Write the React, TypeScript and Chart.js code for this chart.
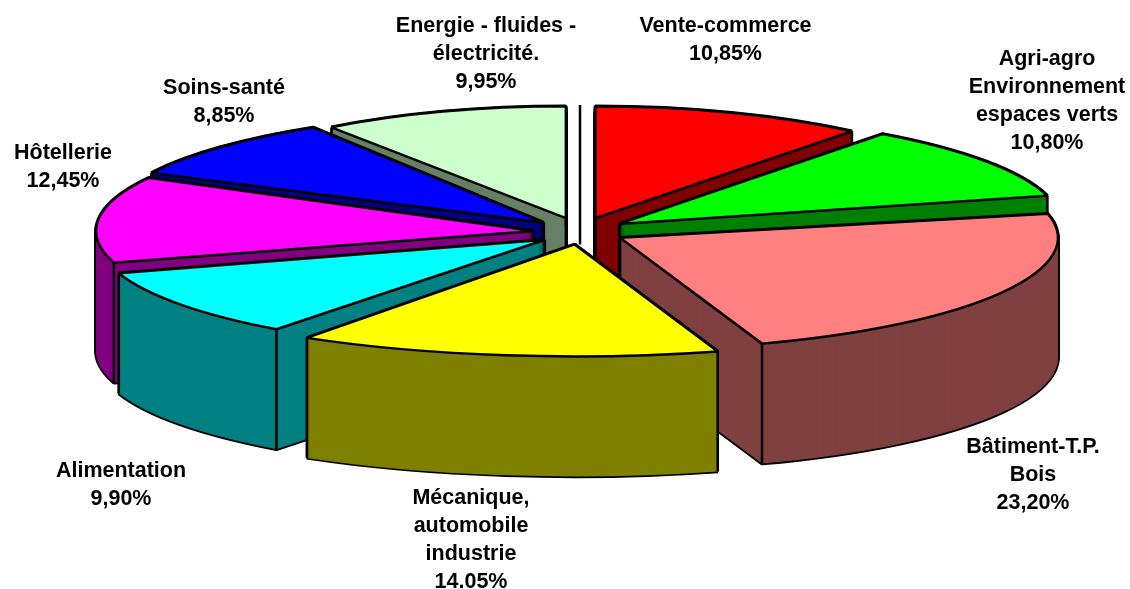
import React, { useEffect, useRef } from "react";
import { Chart, registerables } from "chart.js";

Chart.register(...registerables);

const categories = ["Vente-commerce", "Agri-agro Environnement espaces verts", "Bâtiment-T.P. Bois", "Mécanique, automobile industrie", "Alimentation", "Hôtellerie", "Soins-santé", "Energie - fluides - électricité."];
const values = [10.85, 10.8, 23.2, 14.05, 9.9, 12.45, 8.85, 9.95];
const topColors = ["#FF0000", "#00FF00", "#FF8080", "#FFFF00", "#00FFFF", "#FF00FF", "#0000FF", "#CCFFCC"];
const sideColors = ["#800000", "#008000", "#804040", "#808000", "#008080", "#800080", "#000080", "#668066"];
const labelLines = [
  ["Vente-commerce", "10,85%"],
  ["Agri-agro", "Environnement", "espaces verts", "10,80%"],
  ["Bâtiment-T.P.", "Bois", "23,20%"],
  ["Mécanique,", "automobile", "industrie", "14.05%"],
  ["Alimentation", "9,90%"],
  ["Hôtellerie", "12,45%"],
  ["Soins-santé", "8,85%"],
  ["Energie - fluides -", "électricité.", "9,95%"],
];

// Presentation of the 3D view
const labelAnchors = [[725.5, 26], [1047, 59], [1033, 447], [471, 498], [121, 471], [63, 153], [224, 88], [486, 26]];
const perspectiveTurnDeg = [0, -2.5, -0.3, 1.5, 5, 6, 4, 0];
const perspectiveWiden = [0.93, 1.01, 1, 1.11, 1.02, 1, 1, 0.915];
const paintOrder = [7, 0, 6, 1, 5, 4, 2, 3];
const view = { cx: 580, cy: 231, rx: 438, ry: 112, explodeX: 46, explodeY: 13.5, depth: 120, line: 2.5 };

const pie3d = {
  id: "pie3d",
  beforeDatasetDraw(chart: any) {
    const ctx = chart.ctx as CanvasRenderingContext2D;
    const arcs = chart.getDatasetMeta(0).data as any[];
    const nativeStroke = ctx.stroke;
    // Keep outlines an even width although the circle is squashed to an ellipse.
    (ctx as any).stroke = function () {
      const m = ctx.getTransform();
      ctx.setTransform(1, 0, 0, 1, 0, 0);
      nativeStroke.call(ctx);
      ctx.setTransform(m);
    };
    const setup = (arc: any, i: number, dy: number) => {
      const mid = (arc.startAngle + arc.endAngle) / 2;
      const ax = view.cx + Math.cos(mid) * view.explodeX;
      const ay = view.cy + Math.sin(mid) * view.explodeY + dy;
      ctx.translate(ax, ay);
      ctx.scale((view.rx * perspectiveWiden[i]) / arc.outerRadius, view.ry / arc.outerRadius);
      ctx.rotate((perspectiveTurnDeg[i] * Math.PI) / 180);
      ctx.translate(-arc.x, -arc.y);
    };
    const paint = (arc: any, i: number, dy: number, fill: string, border: string, width: number) => {
      const saved = arc.options;
      arc.options = { ...saved, backgroundColor: fill, borderColor: border, borderWidth: width, offset: 0 };
      ctx.save();
      setup(arc, i, dy);
      arc.draw(ctx);
      ctx.restore();
      arc.options = saved;
    };
    const corner = (arc: any, i: number, ang: number, r: number) => {
      const mid = (arc.startAngle + arc.endAngle) / 2;
      const a = ang + (perspectiveTurnDeg[i] * Math.PI) / 180;
      return [
        view.cx + Math.cos(mid) * view.explodeX + Math.cos(a) * r * view.rx * perspectiveWiden[i],
        view.cy + Math.sin(mid) * view.explodeY + Math.sin(a) * r * view.ry,
      ];
    };
    const spansFront = (arc: any) => arc.startAngle < Math.PI / 2 && arc.endAngle > Math.PI / 2;

    // Thin rule left by the empty slice at twelve o'clock
    ctx.save();
    ctx.strokeStyle = "#000";
    ctx.lineWidth = view.line;
    ctx.beginPath();
    ctx.moveTo(view.cx, view.cy - view.ry - view.explodeY - 0.5);
    ctx.lineTo(view.cx, view.cy + view.explodeY);
    ctx.stroke();
    ctx.restore();

    for (const i of paintOrder) {
      const arc = arcs[i];
      for (let d = view.depth; d >= 0; d -= 2) paint(arc, i, d, "#000", "#000", view.line + 1);
      for (let d = view.depth; d >= 0; d -= 1) paint(arc, i, d, sideColors[i], sideColors[i], 0);
      ctx.save();
      ctx.strokeStyle = "#000";
      ctx.lineWidth = view.line;
      const edges: [number, number][] = [];
      const visibleCorner = (ang: number, isEnd: boolean) => {
        const s = Math.sin(ang);
        const c = Math.cos(ang);
        return s > 0 || (isEnd ? c > 0 : c < 0);
      };
      if (visibleCorner(arc.startAngle, false)) edges.push([arc.startAngle, 1]);
      if (visibleCorner(arc.endAngle, true)) edges.push([arc.endAngle, 1]);
      if (!spansFront(arc)) edges.push([arc.startAngle, 0]);
      for (const [ang, r] of edges) {
        const [x, y] = corner(arc, i, ang, r);
        ctx.beginPath();
        ctx.moveTo(x, y);
        ctx.lineTo(x, y + view.depth);
        ctx.stroke();
      }
      ctx.restore();
      paint(arc, i, 0, topColors[i], "#000", view.line);
    }
    (ctx as any).stroke = nativeStroke;
    return false;
  },
  afterDraw(chart: any) {
    const ctx = chart.ctx as CanvasRenderingContext2D;
    ctx.save();
    ctx.font = 'bold 21.5px "Liberation Sans", Arial, sans-serif';
    ctx.fillStyle = "#000";
    ctx.textAlign = "center";
    ctx.textBaseline = "middle";
    labelLines.forEach((lines, i) => {
      lines.forEach((t, k) => ctx.fillText(t, labelAnchors[i][0], labelAnchors[i][1] + k * 28));
    });
    ctx.restore();
  },
};

export default function App() {
  const ref = useRef<HTMLCanvasElement>(null);
  useEffect(() => {
    const chart = new Chart(ref.current!, {
      type: "pie",
      data: {
        labels: categories,
        datasets: [{ data: values, backgroundColor: topColors, borderColor: "#000", borderWidth: 2 }],
      },
      options: {
        responsive: false,
        animation: false,
        events: [],
        plugins: { legend: { display: false }, tooltip: { enabled: false } },
      },
      plugins: [pie3d],
    } as any);
    return () => chart.destroy();
  }, []);
  return (
    <div style={{ position: "absolute", left: 0, top: 0, width: 1130, height: 589 }}>
      <canvas ref={ref} width={1130} height={589} style={{ display: "block" }} />
    </div>
  );
}
